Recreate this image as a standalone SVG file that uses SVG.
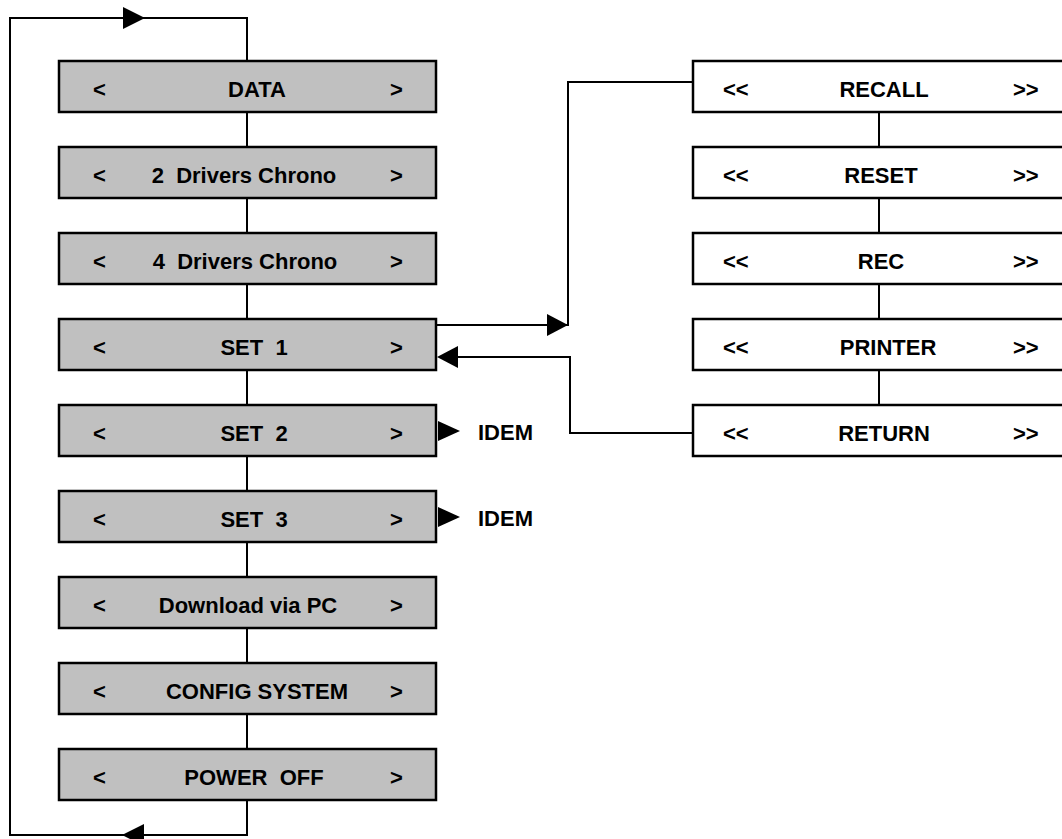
<svg xmlns="http://www.w3.org/2000/svg" width="1062" height="839" viewBox="0 0 1062 839">
<style>
.box{fill:#c0c0c0;stroke:#000;stroke-width:2.5}
.wbox{fill:#fff;stroke:#000;stroke-width:2.5}
.ln{fill:none;stroke:#000;stroke-width:2}
.ah{fill:#000;stroke:none}
text{font-family:"Liberation Sans",Arial,sans-serif;font-weight:bold;font-size:22px;fill:#000}
.m{text-anchor:middle}
</style>
<rect width="1062" height="839" fill="#fff"/>
<g id="connectors">
<path class="ln" d="M247,61 V18 H10 V835 H247 V800"/>
<polygon class="ah" points="123,7 145,18 123,29"/>
<polygon class="ah" points="122,835 144,824 144,846"/>
<path class="ln" d="M247,112 V147 M247,198 V233 M247,284 V319 M247,370 V405 M247,456 V491 M247,542 V577 M247,628 V663 M247,714 V749"/>
<path class="ln" d="M879,112 V147 M879,198 V233 M879,284 V319 M879,370 V405"/>
<path class="ln" d="M436,325 H568 V82 H693"/>
<polygon class="ah" points="547,314 568,325 547,336"/>
<path class="ln" d="M693,433 H570 V357 H450"/>
<polygon class="ah" points="437,357 458,346 458,368"/>
<polygon class="ah" points="438,421 460,431 438,441"/>
<polygon class="ah" points="438,507 460,517 438,527"/>
</g>
<g id="n-data"><rect class="box" x="59" y="61" width="377" height="51"/><text x="93" y="97">&lt;</text><text class="m" x="257" y="97">DATA</text><text x="390" y="97">&gt;</text></g>
<g id="n-2drivers"><rect class="box" x="59" y="147" width="377" height="51"/><text x="93" y="183">&lt;</text><text class="m" x="244" y="183" xml:space="preserve">2  Drivers Chrono</text><text x="390" y="183">&gt;</text></g>
<g id="n-4drivers"><rect class="box" x="59" y="233" width="377" height="51"/><text x="93" y="269">&lt;</text><text class="m" x="245" y="269" xml:space="preserve">4  Drivers Chrono</text><text x="390" y="269">&gt;</text></g>
<g id="n-set1"><rect class="box" x="59" y="319" width="377" height="51"/><text x="93" y="355">&lt;</text><text class="m" x="254" y="355" xml:space="preserve">SET  1</text><text x="390" y="355">&gt;</text></g>
<g id="n-set2"><rect class="box" x="59" y="405" width="377" height="51"/><text x="93" y="441">&lt;</text><text class="m" x="254" y="441" xml:space="preserve">SET  2</text><text x="390" y="441">&gt;</text></g>
<g id="n-set3"><rect class="box" x="59" y="491" width="377" height="51"/><text x="93" y="527">&lt;</text><text class="m" x="254" y="527" xml:space="preserve">SET  3</text><text x="390" y="527">&gt;</text></g>
<g id="n-download"><rect class="box" x="59" y="577" width="377" height="51"/><text x="93" y="613">&lt;</text><text class="m" x="248" y="613">Download via PC</text><text x="390" y="613">&gt;</text></g>
<g id="n-config"><rect class="box" x="59" y="663" width="377" height="51"/><text x="93" y="699">&lt;</text><text class="m" x="257" y="699">CONFIG SYSTEM</text><text x="390" y="699">&gt;</text></g>
<g id="n-poweroff"><rect class="box" x="59" y="749" width="377" height="51"/><text x="93" y="785">&lt;</text><text class="m" x="254" y="785" xml:space="preserve">POWER  OFF</text><text x="390" y="785">&gt;</text></g>
<g id="idem2"><text x="478" y="440">IDEM</text></g>
<g id="idem3"><text x="478" y="526">IDEM</text></g>
<g id="n-recall"><rect class="wbox" x="693" y="61" width="380" height="51"/><text x="723" y="97">&lt;&lt;</text><text class="m" x="884" y="97">RECALL</text><text x="1013" y="97">&gt;&gt;</text></g>
<g id="n-reset"><rect class="wbox" x="693" y="147" width="380" height="51"/><text x="723" y="183">&lt;&lt;</text><text class="m" x="881" y="183">RESET</text><text x="1013" y="183">&gt;&gt;</text></g>
<g id="n-rec"><rect class="wbox" x="693" y="233" width="380" height="51"/><text x="723" y="269">&lt;&lt;</text><text class="m" x="881" y="269">REC</text><text x="1013" y="269">&gt;&gt;</text></g>
<g id="n-printer"><rect class="wbox" x="693" y="319" width="380" height="51"/><text x="723" y="355">&lt;&lt;</text><text class="m" x="888" y="355">PRINTER</text><text x="1013" y="355">&gt;&gt;</text></g>
<g id="n-return"><rect class="wbox" x="693" y="405" width="380" height="51"/><text x="723" y="441">&lt;&lt;</text><text class="m" x="884" y="441">RETURN</text><text x="1013" y="441">&gt;&gt;</text></g>
</svg>
